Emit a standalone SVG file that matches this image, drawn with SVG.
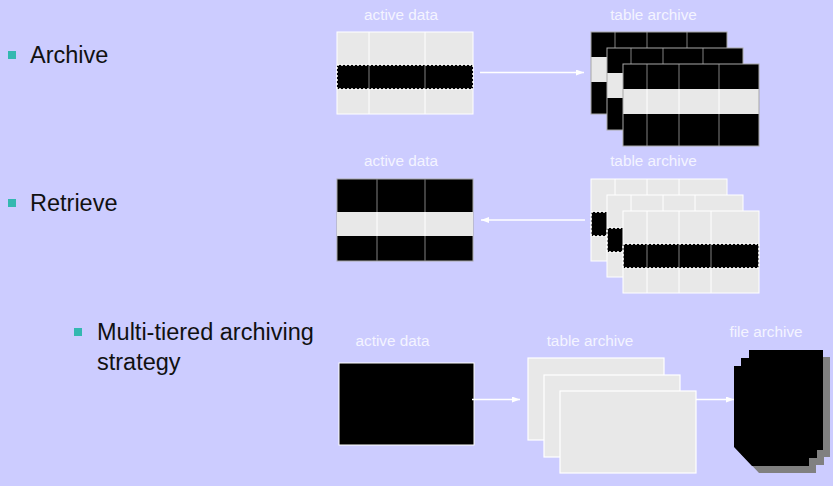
<svg xmlns="http://www.w3.org/2000/svg" width="833" height="486" viewBox="0 0 833 486">
<style>
.bg{fill:#CCCCFF}
.lab{font-family:"Liberation Sans",Arial,sans-serif;font-size:15.3px;fill:#F4F4FF;text-anchor:middle}
.bt{font-family:"Liberation Sans",Arial,sans-serif;font-size:23.5px;fill:#111111}
.bul{fill:#33B8B0}
.lt{fill:#E8E8E8;stroke:#FFFFFF;stroke-width:1}
.bk{fill:#000000;stroke:#808080;stroke-width:1}
.gl{stroke:#FFFFFF;stroke-width:1}
.gd{stroke:#808080;stroke-width:1}
.dot{fill:none;stroke:#FFFFFF;stroke-width:1.5;stroke-dasharray:2 2}
.frame{fill:none;stroke:#A8A8A8;stroke-width:1}
.conn{stroke:#FFFFFF;stroke-width:1.3;fill:none}
</style>
<defs>
<marker id="ah" markerWidth="8" markerHeight="6" refX="8" refY="3" orient="auto" markerUnits="userSpaceOnUse">
<path d="M0,0 L8,3 L0,6 Z" fill="#FFFFFF"/>
</marker>
<g id="sheetA">
<rect x="0" y="0" width="136" height="25" fill="#000"/>
<rect x="0" y="25" width="136" height="25" fill="#E8E8E8"/>
<rect x="0" y="50" width="136" height="32" fill="#000"/>
<path class="gd" d="M24,0V25M56,0V25M96,0V25M24,50V82M56,50V82M96,50V82"/>
<path class="gl" d="M24,25V50M56,25V50M96,25V50"/>
<rect class="frame" x="0" y="0" width="136" height="82"/>
</g>
<g id="sheetB">
<rect x="0" y="0" width="136" height="82" fill="#E8E8E8"/>
<rect x="0" y="33" width="136" height="24" fill="#000"/>
<path class="gl" d="M24,0V33M56,0V33M88,0V33M24,57V82M56,57V82M88,57V82"/>
<path class="gd" d="M24,33V57M56,33V57M88,33V57"/>
<rect class="dot" x="0" y="33" width="136" height="24"/>
<rect fill="none" stroke="#FFFFFF" x="0" y="0" width="136" height="82"/>
</g>
<rect id="sheetC" x="0" y="0" width="136" height="82" fill="#E8E8E8" stroke="#FFFFFF" stroke-width="1.2"/>
</defs>
<rect class="bg" x="0" y="0" width="833" height="486"/>

<g id="bullet-archive">
<rect class="bul" x="8" y="51" width="8" height="8"/>
<text class="bt" x="30" y="63">Archive</text>
</g>
<g id="bullet-retrieve">
<rect class="bul" x="8" y="199" width="8" height="8"/>
<text class="bt" x="30" y="211">Retrieve</text>
</g>
<g id="bullet-multi">
<rect class="bul" x="74" y="328" width="8" height="8"/>
<text class="bt" x="97" y="340">Multi-tiered archiving</text>
<text class="bt" x="97" y="370">strategy</text>
</g>

<g id="active-data-1">
<text class="lab" x="401" y="20">active data</text>
<rect x="337" y="32" width="136" height="82" fill="#E8E8E8" stroke="#FFFFFF"/>
<rect x="337" y="65" width="136" height="24" fill="#000"/>
<path class="gl" d="M369,32V65M425,32V65M369,89V114M425,89V114"/>
<path class="gd" d="M369,65V89M425,65V89"/>
<rect class="dot" x="337" y="65" width="136" height="24"/>
</g>

<g id="table-archive-1">
<text class="lab" x="653.5" y="20">table archive</text>
<use href="#sheetA" x="591" y="32"/>
<use href="#sheetA" x="607" y="48"/>
<use href="#sheetA" x="623" y="64"/>
</g>

<g id="active-data-2">
<text class="lab" x="401" y="166">active data</text>
<rect x="337" y="179" width="136" height="82" fill="#000" stroke="#A8A8A8"/>
<rect x="337" y="212" width="136" height="24" fill="#E8E8E8"/>
<path class="gd" d="M377,179V212M425,179V212M377,236V261M425,236V261"/>
<path class="gl" d="M377,212V236M425,212V236"/>
</g>

<g id="table-archive-2">
<text class="lab" x="653.5" y="166">table archive</text>
<use href="#sheetB" x="591" y="179"/>
<use href="#sheetB" x="607" y="195"/>
<use href="#sheetB" x="623" y="211"/>
</g>

<g id="active-data-3">
<text class="lab" x="392.5" y="346">active data</text>
<rect x="339" y="363" width="135" height="82" fill="#000" stroke="#FFFFFF"/>
</g>

<g id="table-archive-3">
<text class="lab" x="590" y="346">table archive</text>
<use href="#sheetC" x="528" y="358"/>
<use href="#sheetC" x="544" y="375"/>
<use href="#sheetC" x="560" y="391"/>
</g>

<g id="file-archive">
<text class="lab" x="766" y="337">file archive</text>
<polygon transform="translate(7,7)" fill="#808080" points="749,350 823,350 823,450 817,450 817,458 809,458 809,466 752,466 734,447 734,366 741,366 741,358 749,358"/>
<polygon fill="#000000" points="749,350 823,350 823,450 817,450 817,458 809,458 809,466 752,466 734,447 734,366 741,366 741,358 749,358"/>
</g>

<g id="connectors">
<line class="conn" x1="480" y1="72.5" x2="584" y2="72.5" marker-end="url(#ah)"/>
<line class="conn" x1="585" y1="220" x2="481" y2="220" marker-end="url(#ah)"/>
<line class="conn" x1="472" y1="399.5" x2="520" y2="399.5" marker-end="url(#ah)"/>
<line class="conn" x1="696" y1="399.5" x2="734" y2="399.5" marker-end="url(#ah)"/>
</g>
</svg>
